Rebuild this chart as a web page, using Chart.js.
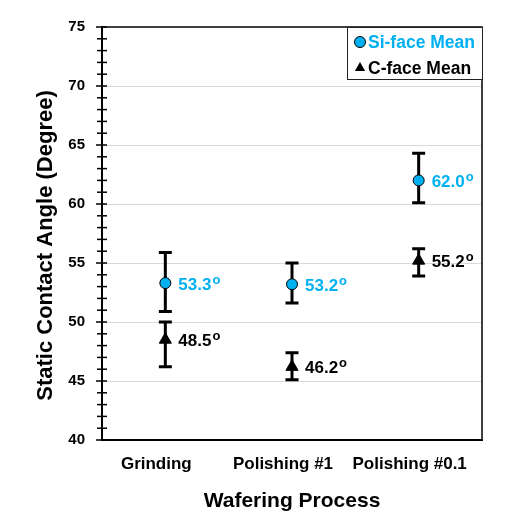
<!DOCTYPE html>
<html>
<head>
<meta charset="utf-8">
<script src="https://cdn.jsdelivr.net/npm/chart.js@4/dist/chart.umd.min.js"></script>
<style>
html,body{margin:0;padding:0;background:#fff;}
#wrap{width:512px;height:517px;}
</style>
</head>
<body>
<div id="wrap"><canvas id="c" width="512" height="517"></canvas></div>
<script>
const categories = ['Grinding', 'Polishing #1', 'Polishing #0.1'];
const siMean  = [53.3, 53.2, 62.0];
const siUpper = [55.9, 55.0, 64.3];
const siLower = [50.9, 51.6, 60.1];
const cMean   = [48.5, 46.2, 55.2];
const cUpper  = [50.0, 47.4, 56.2];
const cLower  = [46.2, 45.1, 53.9];
const siLabels = ['53.3', '53.2', '62.0'];
const cLabels  = ['48.5', '46.2', '55.2'];
const yMin = 40, yMax = 75, yStep = 5;
const yTitle = 'Static Contact Angle (Degree)';
const xTitle = 'Wafering Process';

const BLUE = '#00b0f0';
const FONT = 'Liberation Sans, Arial, sans-serif';

const errorBars = {
  id: 'errorBars',
  beforeDatasetsDraw(chart) {
    const ctx = chart.ctx, xs = chart.scales.x, ys = chart.scales.y;
    const sets = [[siUpper, siLower], [cUpper, cLower]];
    ctx.save();
    ctx.strokeStyle = '#000';
    ctx.lineWidth = 3;
    sets.forEach(([up, lo]) => {
      categories.forEach((cat, i) => {
        const x = xs.getPixelForValue(i);
        const yt = ys.getPixelForValue(up[i]);
        const yb = ys.getPixelForValue(lo[i]);
        ctx.beginPath();
        ctx.moveTo(x, yt); ctx.lineTo(x, yb);
        ctx.moveTo(x - 6.5, yt); ctx.lineTo(x + 6.5, yt);
        ctx.moveTo(x - 6.5, yb); ctx.lineTo(x + 6.5, yb);
        ctx.stroke();
      });
    });
    ctx.restore();
  }
};

const decor = {
  id: 'decor',
  beforeDatasetsDraw(chart) {
    const ctx = chart.ctx, ys = chart.scales.y, a = chart.chartArea;
    ctx.save();
    ctx.strokeStyle = '#000';
    ctx.lineWidth = 1.5;
    ctx.beginPath();
    ctx.moveTo(a.left, a.top); ctx.lineTo(a.right, a.top); ctx.lineTo(a.right, a.bottom);
    ctx.stroke();
    for (let v = yMin; v <= yMax; v++) {
      const y = ys.getPixelForValue(v);
      const major = v % yStep === 0;
      ctx.beginPath();
      ctx.moveTo(a.left - (major ? 6 : 5), y);
      ctx.lineTo(a.left + 5, y);
      ctx.stroke();
    }
    // y axis title
    ctx.save();
    ctx.translate(46, (a.top + a.bottom) / 2 + 12);
    ctx.rotate(-Math.PI / 2);
    ctx.font = 'bold 22px ' + FONT;
    ctx.fillStyle = '#000';
    ctx.textAlign = 'center';
    ctx.textBaseline = 'middle';
    ctx.fillText(yTitle, 0, 0);
    ctx.restore();
    ctx.restore();
  },
  afterDatasetsDraw(chart) {
    const ctx = chart.ctx, xs = chart.scales.x, ys = chart.scales.y, a = chart.chartArea;
    ctx.save();
    const drawLabel = (txt, x, y, color) => {
      ctx.fillStyle = color;
      ctx.textBaseline = 'alphabetic';
      ctx.textAlign = 'left';
      ctx.font = 'bold 17px ' + FONT;
      ctx.fillText(txt, x, y + 6.5);
      const w = ctx.measureText(txt).width;
      ctx.font = 'bold 13px ' + FONT;
      ctx.fillText('o', x + w + 1, y + 0.5);
    };
    categories.forEach((cat, i) => {
      const x = xs.getPixelForValue(i);
      drawLabel(siLabels[i], x + 13, ys.getPixelForValue(siMean[i]), BLUE);
      drawLabel(cLabels[i], x + 13, ys.getPixelForValue(cMean[i]), '#000');
    });
    const lx = a.right - 135, ly = a.top, lw = 136, lh = 53;
    ctx.fillStyle = '#fff';
    ctx.fillRect(lx, ly, lw, lh);
    ctx.strokeStyle = '#222';
    ctx.lineWidth = 1;
    ctx.strokeRect(lx + 0.5, ly + 0.5, lw - 1, lh - 1);
    const ds = chart.data.datasets;
    const rows = [ly + 15, ly + 41];
    ds.forEach((d, k) => {
      const cy = rows[k], cx = lx + 13;
      ctx.beginPath();
      if (d.pointStyle === 'circle') {
        ctx.arc(cx, cy, 5.5, 0, Math.PI * 2);
        ctx.fillStyle = d.pointBackgroundColor;
        ctx.fill();
        ctx.strokeStyle = '#000';
        ctx.lineWidth = 1;
        ctx.stroke();
      } else {
        const r = 6;
        ctx.moveTo(cx, cy - r);
        ctx.lineTo(cx + r * 0.866, cy + r * 0.5);
        ctx.lineTo(cx - r * 0.866, cy + r * 0.5);
        ctx.closePath();
        ctx.fillStyle = '#000';
        ctx.fill();
      }
      ctx.font = 'bold 17.5px ' + FONT;
      ctx.fillStyle = k === 0 ? BLUE : '#000';
      ctx.textBaseline = 'middle';
      ctx.textAlign = 'left';
      ctx.fillText(d.label, lx + 21, cy + 1);
    });
    ctx.restore();
  }
};

new Chart(document.getElementById('c'), {
  type: 'line',
  data: {
    labels: categories,
    datasets: [
      {
        label: 'Si-face Mean',
        data: siMean,
        showLine: false,
        pointStyle: 'circle',
        pointRadius: 5.5,
        pointBackgroundColor: BLUE,
        pointBorderColor: '#000',
        pointBorderWidth: 1
      },
      {
        label: 'C-face Mean',
        data: cMean,
        showLine: false,
        pointStyle: 'triangle',
        pointRadius: 7,
        pointBackgroundColor: '#000',
        pointBorderColor: '#000',
        pointBorderWidth: 1
      }
    ]
  },
  options: {
    responsive: false,
    animation: false,
    devicePixelRatio: 1,
    layout: { padding: { top: 27, right: 30, left: 0, bottom: 0 } },
    plugins: { legend: { display: false }, tooltip: { enabled: false } },
    scales: {
      x: {
        type: 'category',
        offset: true,
        grid: { display: false, drawTicks: false },
        border: { display: true, color: '#000', width: 2 },
        ticks: { color: '#000', font: { family: FONT, size: 17, weight: 'bold' }, padding: 14, labelOffset: -9, maxRotation: 0, autoSkip: false },
        title: { display: true, text: xTitle, color: '#000', font: { family: FONT, size: 21, weight: 'bold' }, padding: { top: 0, bottom: 3 } },
        afterFit(s) { s.height = 77; }
      },
      y: {
        min: yMin, max: yMax,
        grid: {
          drawTicks: false,
          color: (c) => (c.tick && c.tick.value === yMax) ? 'rgba(0,0,0,0)' : '#d9d9d9',
          lineWidth: 1
        },
        border: { display: true, color: '#000', width: 2 },
        ticks: { stepSize: yStep, color: '#000', font: { family: FONT, size: 15, weight: 'bold' }, padding: 17 },
        title: { display: false },
        afterFit(s) { s.width = 102; }
      }
    }
  },
  plugins: [errorBars, decor]
});
</script>
</body>
</html>
